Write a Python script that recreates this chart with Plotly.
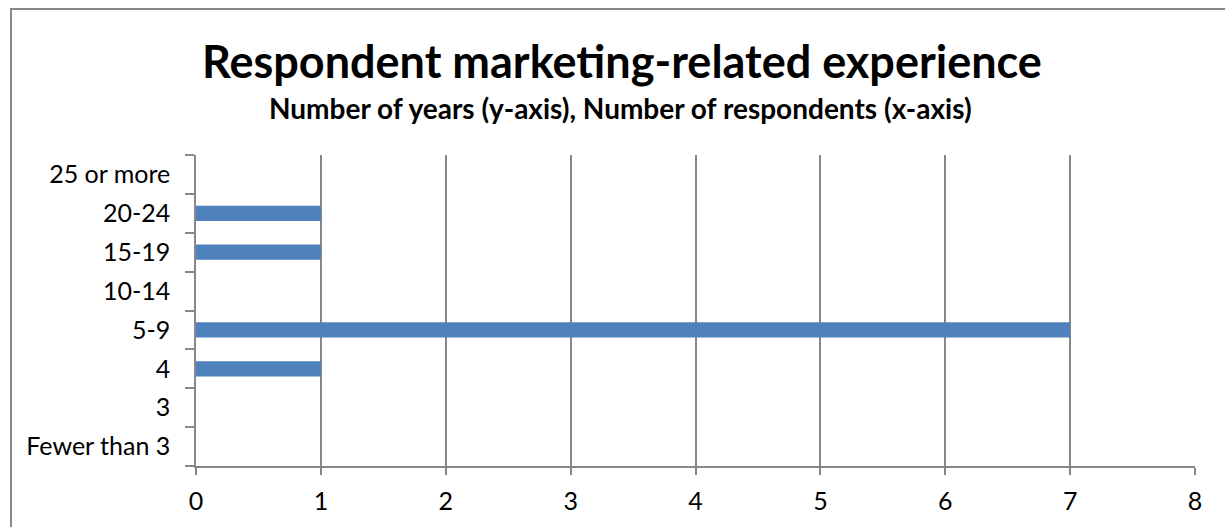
import plotly.graph_objects as go

# Years of marketing-related experience (bottom to top) and respondent counts
experience_bands = ["Fewer than 3", "3", "4", "5-9", "10-14", "15-19", "20-24", "25 or more"]
respondents = [0, 0, 1, 7, 0, 1, 1, 0]
x_ticks = [0, 1, 2, 3, 4, 5, 6, 7, 8]

W, H = 1225, 527
ML, MR, MT, MB = 196, 30, 155, 61
PW, PH = W - ML - MR, H - MT - MB

def px_x(px):
    return (px - ML) / PW

def px_y(py):
    return (H - MB - py) / PH

GRID = "#878787"
FONT = "Lato, Calibri, Carlito, sans-serif"

fig = go.Figure(
    go.Bar(
        x=respondents,
        y=experience_bands,
        orientation="h",
        marker=dict(color="#4F81BD", line=dict(width=0)),
        hoverinfo="x+y",
    )
)

fig.update_layout(
    width=W,
    height=H,
    margin=dict(l=ML, r=MR, t=MT, b=MB),
    paper_bgcolor="white",
    plot_bgcolor="white",
    showlegend=False,
    bargap=0.61,
    font=dict(family=FONT, color="black"),
    xaxis=dict(
        range=[0, 8],
        tickvals=x_ticks,
        showgrid=True,
        gridcolor=GRID,
        gridwidth=1.5,
        zeroline=False,
        showline=True,
        linecolor=GRID,
        linewidth=1.5,
        ticks="outside",
        ticklen=7,
        tickwidth=1.5,
        tickcolor=GRID,
        ticklabelstandoff=5,
        tickfont=dict(size=25, family=FONT),
        fixedrange=True,
    ),
    yaxis=dict(
        type="category",
        categoryorder="array",
        categoryarray=experience_bands,
        showgrid=False,
        zeroline=False,
        showline=True,
        linecolor=GRID,
        linewidth=1.5,
        ticks="outside",
        tickson="boundaries",
        ticklen=9,
        tickwidth=1.5,
        tickcolor=GRID,
        ticklabelstandoff=19,
        tickfont=dict(size=25, family=FONT),
        fixedrange=True,
    ),
    annotations=[
        dict(
            text="<b>Respondent marketing-related experience</b>",
            xref="paper", yref="paper",
            x=px_x(622), y=px_y(61),
            xanchor="center", yanchor="middle",
            showarrow=False,
            font=dict(size=45, family=FONT, color="black"),
        ),
        dict(
            text="<b>Number of years (y-axis), Number of respondents (x-axis)</b>",
            xref="paper", yref="paper",
            x=px_x(620), y=px_y(108),
            xanchor="center", yanchor="middle",
            showarrow=False,
            font=dict(size=28, family=FONT, color="black"),
        ),
    ],
    shapes=[
        dict(
            type="rect",
            xref="paper", yref="paper",
            x0=px_x(11), x1=px_x(1240),
            y0=px_y(545), y1=px_y(9),
            line=dict(color=GRID, width=2),
            fillcolor="rgba(0,0,0,0)",
            layer="below",
        )
    ],
)

fig.write_html("out.html")
